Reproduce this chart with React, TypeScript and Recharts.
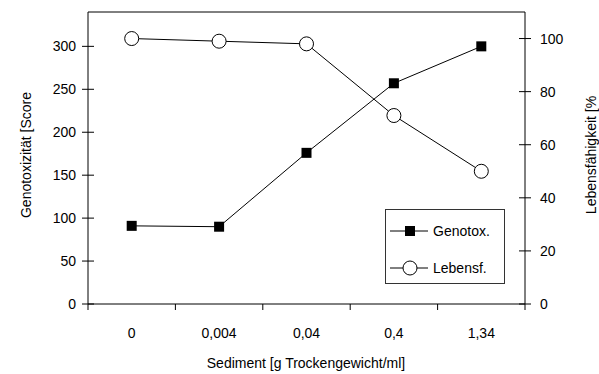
import React from "react";
import { LineChart, Line, XAxis, YAxis, ReferenceLine } from "recharts";

const categories = ["0", "0,004", "0,04", "0,4", "1,34"];
const genotox = [91, 90, 176, 257, 300];
const lebensf = [100, 99, 98, 71, 50];
const leftTicks = [0, 50, 100, 150, 200, 250, 300];
const rightTicks = [0, 20, 40, 60, 80, 100];
const xTicks = [-0.5, 0, 0.5, 1, 1.5, 2, 2.5, 3, 3.5, 4, 4.5];
const legendItems = ["Genotox.", "Lebensf."];

const data = categories.map((c, i) => ({ i, label: c, geno: genotox[i], leb: lebensf[i] }));

const FONT = "'Liberation Sans', Arial, sans-serif";
const FS = 14;

const LeftTick = (p: any) => (
  <g>
    <line x1={p.x - 6} x2={p.x + 6} y1={p.y} y2={p.y} stroke="#000" />
    <text x={p.x - 12} y={p.y} dy={5} textAnchor="end" fontSize={FS} fontFamily={FONT} fill="#000">
      {p.payload.value}
    </text>
  </g>
);

const RightTick = (p: any) => (
  <g>
    <line x1={p.x - 6} x2={p.x + 6} y1={p.y} y2={p.y} stroke="#000" />
    <text x={p.x + 15} y={p.y} dy={5} textAnchor="start" fontSize={FS} fontFamily={FONT} fill="#000">
      {p.payload.value}
    </text>
  </g>
);

const XTick = (p: any) => {
  const v = p.payload.value;
  if (Number.isInteger(v)) {
    return (
      <text x={p.x} y={p.y + 34} textAnchor="middle" fontSize={FS} fontFamily={FONT} fill="#000">
        {categories[v]}
      </text>
    );
  }
  return <line x1={p.x} x2={p.x} y1={p.y} y2={p.y + 6} stroke="#000" />;
};

const SquareDot = (p: any) => (
  <rect key={`sq-${p.index}`} x={p.cx - 5} y={p.cy - 5} width={10} height={10} fill="#000" />
);

const LegendBox = () => (
  <div
    style={{
      position: "absolute",
      left: 385,
      top: 209,
      width: 120,
      height: 75,
      border: "1px solid #333",
      background: "#fff",
      boxSizing: "border-box",
    }}
  >
    <svg width={118} height={73} style={{ display: "block" }}>
      {legendItems.map((name, k) => {
        const y = 21 + k * 37;
        return (
          <g key={name}>
            <line x1={4} x2={42} y1={y} y2={y} stroke="#000" />
            {k === 0 ? (
              <rect x={19} y={y - 5} width={10} height={10} fill="#000" />
            ) : (
              <circle cx={24} cy={y} r={7} fill="#fff" stroke="#000" />
            )}
            <text x={47} y={y + 5} fontSize={FS} fontFamily={FONT} fill="#000">
              {name}
            </text>
          </g>
        );
      })}
    </svg>
  </div>
);

export default function App() {
  return (
    <div style={{ position: "absolute", left: 0, top: 0, width: 599, height: 374, background: "#fff" }}>
      <LineChart
        width={599}
        height={374}
        data={data}
        margin={{ top: 12, left: 28, right: 24, bottom: 40 }}
        style={{ fontFamily: FONT }}
      >
        <XAxis
          dataKey="i"
          type="number"
          domain={[-0.5, 4.5]}
          ticks={xTicks}
          interval={0}
          tickSize={0}
          tickMargin={0}
          height={30}
          tick={<XTick />}
          axisLine={{ stroke: "#000" }}
          label={{
            value: "Sediment [g Trockengewicht/ml]",
            content: () => (
              <text x={306} y={368} textAnchor="middle" fontSize={FS} fontFamily={FONT} fill="#000">
                Sediment [g Trockengewicht/ml]
              </text>
            ),
          }}
        />
        <YAxis
          yAxisId="left"
          orientation="left"
          width={60}
          domain={[0, 340]}
          ticks={leftTicks}
          interval={0}
          tickSize={0}
          tickMargin={0}
          tick={<LeftTick />}
          axisLine={{ stroke: "#000" }}
          label={{
            value: "Genotoxizität [Score",
            content: () => (
              <text
                x={0}
                y={0}
                transform="translate(31,155) rotate(-90)"
                textAnchor="middle"
                fontSize={FS}
                fontFamily={FONT}
                fill="#000"
              >
                Genotoxizität [Score
              </text>
            ),
          }}
        />
        <YAxis
          yAxisId="right"
          orientation="right"
          width={50}
          domain={[0, 110]}
          ticks={rightTicks}
          interval={0}
          tickSize={0}
          tickMargin={0}
          tick={<RightTick />}
          axisLine={{ stroke: "#000" }}
          label={{
            value: "Lebensfähigkeit [%",
            content: () => (
              <text
                x={0}
                y={0}
                transform="translate(596,155) rotate(-90)"
                textAnchor="middle"
                fontSize={FS}
                fontFamily={FONT}
                fill="#000"
              >
                Lebensfähigkeit [%
              </text>
            ),
          }}
        />
        <ReferenceLine yAxisId="left" y={340} stroke="#000" />
        <Line
          yAxisId="left"
          dataKey="geno"
          name="Genotox."
          stroke="#000"
          strokeWidth={1}
          dot={<SquareDot />}
          isAnimationActive={false}
        />
        <Line
          yAxisId="right"
          dataKey="leb"
          name="Lebensf."
          stroke="#000"
          strokeWidth={1}
          dot={{ r: 7, fill: "#fff", stroke: "#000", strokeWidth: 1 }}
          isAnimationActive={false}
        />
      </LineChart>
      <LegendBox />
    </div>
  );
}
